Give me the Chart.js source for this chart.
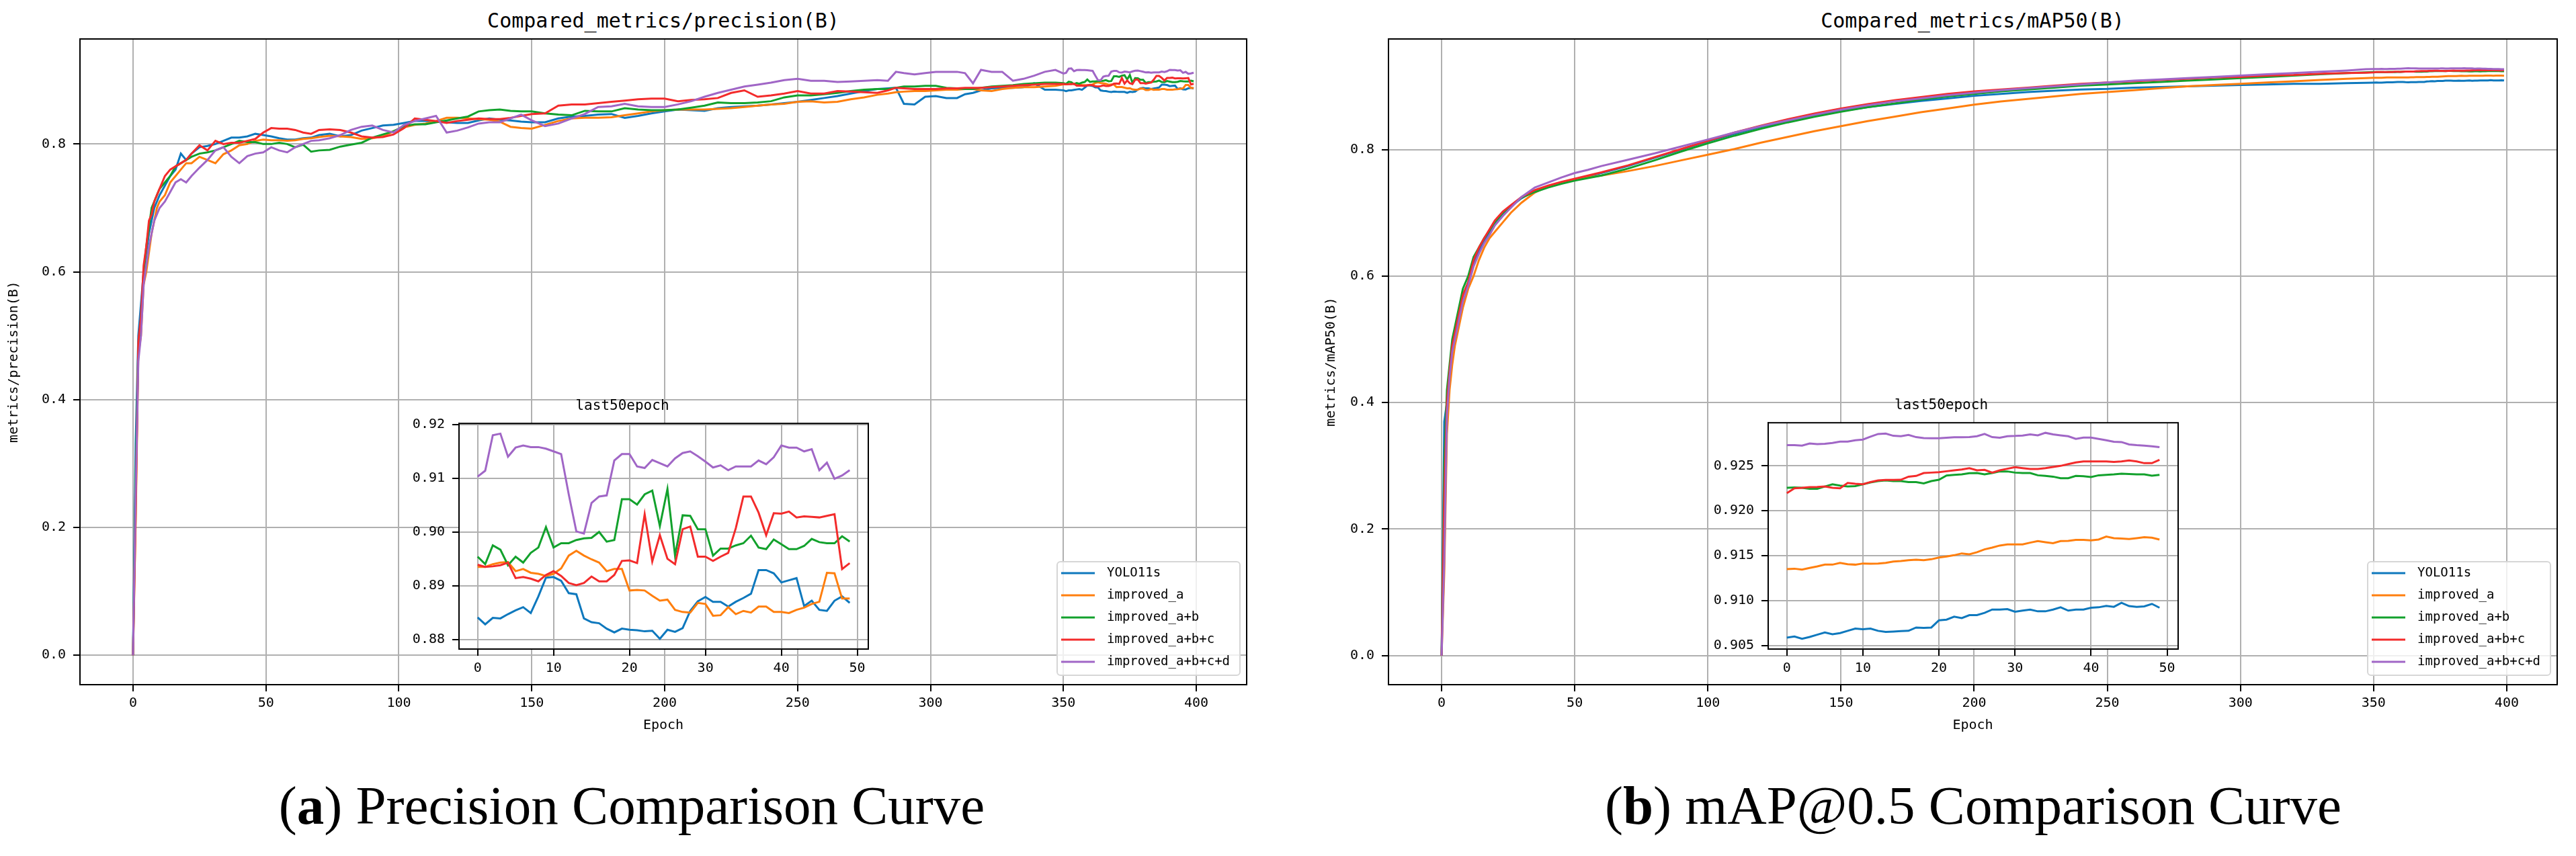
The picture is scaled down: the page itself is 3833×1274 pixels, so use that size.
<!DOCTYPE html>
<html>
<head>
<meta charset="utf-8">
<script src="https://cdn.jsdelivr.net/npm/chart.js@4.4.1/dist/chart.umd.min.js"></script>
<style>
  html, body { margin: 0; padding: 0; background: #fff; overflow: hidden; }
  body { width: 3833px; height: 1274px; position: relative; }
  canvas { position: absolute; }
  .title { position: absolute; transform: translateX(-50%); white-space: nowrap; font-family: 'DejaVu Sans Mono', monospace; font-size: 30px; line-height: 36px; color: #000; }
  .caption { position: absolute; transform: translateX(-50%); white-space: nowrap; font-family: 'Liberation Serif', serif; font-size: 81px; line-height: 81px; color: #000; }
</style>
</head>
<body>
<div class="title" style="left:987px;top:13px">Compared_metrics/precision(B)</div>
<div class="title" style="left:2935px;top:13px">Compared_metrics/mAP50(B)</div>
<canvas id="precMain" width="1900" height="1097" style="left:0;top:0"></canvas>
<canvas id="mapMain" width="1933" height="1097" style="left:1900px;top:0"></canvas>
<canvas id="precInset" width="855" height="432" style="left:560px;top:580px"></canvas>
<canvas id="mapInset" width="800" height="433" style="left:2536px;top:579px"></canvas>
<div class="caption" style="left:940px;top:1159px">(<b>a</b>) Precision Comparison Curve</div>
<div class="caption" style="left:2936px;top:1159px">(<b>b</b>) mAP@0.5 Comparison Curve</div>

<script>
// ---- data ----
const SERIES = ['YOLO11s', 'improved_a', 'improved_a+b', 'improved_a+b+c', 'improved_a+b+c+d'];

// precision(B), epochs 0..347 (sampled), the last 50 epochs come from the inset arrays
const PREC_EPOCHS = [0,1,2,3,4,5,6,7,8,9,10,12,14,16,18,20,22,25,28,31,34,37,40,43,46,49,52,55,58,61,64,67,70,
  74,78,82,86,90,94,98,102,106,110,114,118,122,126,130,134,138,142,146,150,
  155,160,165,170,175,180,185,190,195,200,205,210,215,220,225,230,235,240,245,250,255,260,265,270,275,280,
  284,287,290,294,298,302,306,310,313,316,319,323,327,331,335,339,343,347];

const PREC_YOLO11S = [0,.33,.50,.55,.60,.63,.66,.68,.70,.71,.72, .735,.75,.76,.785,.775,.785,
  .795,.797,.80,.805,.81,.81,.812,.816,.814, .812,.809,.807,.807,.809,.810,.814,
  .816,.812,.814,.821,.825,.829,.830,.833,.836,.836,.835,.834,.833,.833,.837,.840,.838,.837,.835,.834,
  .834,.840,.843,.844,.846,.847,.841,.844,.848,.851,.854,.853,.852,.856,.858,.859,.860,.862,.864,.866,.869,.872,.875,.879,.883,.886,
  .887,.888,.863,.862,.874,.875,.872,.872,.878,.880,.884,.887,.888,.888,.889,.895,.885,.885];
const PREC_A = [0,.21,.47,.50,.58,.60,.63,.66,.68,.70,.71, .72,.74,.75,.76,.77,.77,
  .78,.775,.77,.784,.79,.798,.80,.805,.807, .806,.806,.805,.806,.808,.809,.811,
  .813,.812,.811,.808,.809,.812,.820,.826,.830,.832,.836,.841,.841,.840,.839,.838,.835,.827,.825,.824,
  .830,.836,.840,.841,.841,.842,.845,.848,.851,.853,.854,.854,.854,.855,.856,.858,.860,.862,.863,.866,.867,.865,.866,.870,.873,.877,
  .879,.881,.882,.883,.883,.884,.885,.885,.886,.886,.884,.883,.886,.888,.889,.889,.890,.891];
const PREC_AB = [0,.28,.48,.52,.60,.64,.67,.70,.71,.72,.73, .74,.75,.765,.77,.775,.78,
  .785,.787,.79,.795,.80,.805,.803,.803,.80, .800,.802,.800,.795,.799,.788,.790,
  .791,.796,.799,.802,.810,.815,.820,.828,.831,.831,.834,.837,.840,.843,.851,.853,.854,.852,.851,.851,
  .848,.846,.845,.852,.851,.851,.856,.854,.853,.853,.854,.857,.860,.865,.864,.864,.865,.867,.873,.876,.876,.878,.880,.883,.885,.886,
  .886,.888,.890,.890,.891,.891,.888,.887,.886,.886,.888,.890,.891,.892,.894,.895,.896,.896];
const PREC_ABC = [0,.22,.49,.53,.61,.64,.68,.69,.71,.72,.73, .75,.76,.765,.77,.775,.785,
  .798,.79,.805,.80,.802,.802,.805,.808,.818, .825,.824,.824,.822,.818,.816,.822,
  .823,.822,.818,.812,.810,.811,.815,.825,.840,.838,.836,.833,.836,.838,.840,.839,.839,.841,.844,.847,
  .848,.860,.862,.862,.864,.866,.868,.870,.871,.871,.867,.869,.870,.872,.880,.884,.874,.876,.879,.883,.879,.879,.883,.882,.881,.880,
  .884,.888,.887,.886,.886,.886,.887,.887,.888,.888,.888,.889,.890,.891,.892,.893,.894,.894];
const PREC_ABCD = [0,.25,.46,.50,.58,.61,.64,.66,.68,.69,.70, .71,.725,.74,.745,.74,.75,
  .763,.775,.79,.795,.78,.77,.781,.785,.787, .795,.79,.787,.795,.80,.805,.806,
  .809,.814,.822,.827,.829,.822,.818,.830,.836,.840,.844,.818,.821,.826,.832,.834,.834,.840,.846,.837,
  .828,.832,.840,.847,.858,.859,.863,.859,.858,.858,.862,.867,.874,.880,.885,.890,.893,.896,.900,.902,.899,.899,.897,.898,.899,.900,
  .899,.913,.911,.909,.911,.913,.913,.913,.911,.895,.916,.913,.913,.899,.902,.907,.913,.916];

// precision(B), last 50 epochs (350..399)
const PREC_LAST_YOLO11S = [.8841,.8828,.8840,.8839,.8847,.8854,.8860,.8849,.8880,.8915,.8916,.8909,.8886,.8884,.8839,.8832,.8830,.8820,.8813,.8820,
  .8818,.8817,.8815,.8816,.8801,.8818,.8814,.8821,.8853,.8871,.8879,.8870,.8870,.8861,.8870,.8877,.8885,.8929,.8929,.8923,
  .8906,.8910,.8914,.8862,.8872,.8855,.8853,.8872,.8880,.8868];
const PREC_LAST_A = [.8935,.8935,.8940,.8943,.8944,.8927,.8931,.8924,.8922,.8918,.8922,.8932,.8956,.8965,.8956,.8949,.8943,.8927,.8931,.8931,
  .8891,.8892,.8891,.8881,.8872,.8874,.8855,.8851,.8850,.8868,.8866,.8844,.8845,.8860,.8847,.8853,.8850,.8861,.8861,.8851,
  .8851,.8849,.8855,.8859,.8866,.8870,.8924,.8923,.8876,.8876];
const PREC_LAST_AB = [.8954,.8940,.8975,.8967,.8938,.8954,.8943,.8961,.8971,.9009,.8971,.8979,.8979,.8985,.8988,.8989,.9000,.8982,.8985,.9061,
  .9061,.9051,.9070,.9077,.9011,.9080,.8956,.9031,.9030,.9005,.9005,.8956,.8969,.8969,.8975,.8979,.8993,.8971,.8968,.8986,
  .8977,.8968,.8968,.8974,.8987,.8981,.8979,.8979,.8992,.8982];
const PREC_LAST_ABC = [.8939,.8935,.8936,.8938,.8943,.8914,.8916,.8913,.8908,.8920,.8927,.8918,.8905,.8901,.8905,.8917,.8908,.8908,.8920,.8946,
  .8947,.8942,.9033,.8945,.8994,.8950,.8940,.9005,.9010,.8954,.8954,.8946,.8954,.8961,.9007,.9066,.9066,.9036,.8994,.9035,
  .9034,.9038,.9027,.9029,.9028,.9027,.9030,.9033,.8931,.8942];
const PREC_LAST_ABCD = [.9103,.9114,.9180,.9183,.9140,.9157,.9161,.9158,.9158,.9155,.9150,.9145,.9070,.9001,.8997,.9054,.9066,.9068,.9133,.9145,
  .9145,.9122,.9119,.9134,.9128,.9122,.9137,.9147,.9150,.9141,.9131,.9120,.9124,.9115,.9122,.9122,.9122,.9133,.9126,.9139,
  .9161,.9157,.9157,.9150,.9154,.9115,.9129,.9099,.9105,.9115];

// mAP50(B), epochs 0..347 (sampled)
const MAP_EPOCHS = [0,1,2,3,4,5,6,7,8,10,12,14,16,18,20,23,26,30,35,40,45,50,55,60,
  70,80,90,100,110,120,130,140,150,160,170,180,190,200,210,220,230,240,250,260,270,280,290,300,310,320,330,340,347];

const MAP_YOLO11S = [0,.37,.40,.45,.49,.51,.53,.55,.57, .59,.62,.64,.655,.67,.683, .697,.71, .723,.735,.742,.748,.753,.758,.763,
  .774,.787,.800,.813,.825,.836,.845,.853,.861,.867,.872,.877,.881,.885,.888,.891,.893,.895,.896,.898,.899,.900,.901,.902,.903,.904,.904,.905,.9057];
const MAP_A = [0,.13,.35,.42,.46,.49,.51,.53,.55, .58,.60,.625,.645,.66,.67, .685,.70, .716,.732,.742,.748,.752,.756,.759,
  .766,.774,.783,.792,.801,.811,.820,.829,.837,.845,.852,.859,.865,.871,.876,.880,.884,.888,.891,.894,.897,.900,.902,.904,.906,.908,.910,.912,.913];
const MAP_AB = [0,.30,.42,.46,.50,.52,.54,.56,.58, .60,.63,.645,.66,.672,.685, .70,.71, .724,.733,.740,.746,.751,.755,.759,
  .770,.783,.797,.810,.822,.833,.843,.852,.860,.867,.873,.879,.884,.888,.892,.895,.898,.901,.903,.905,.907,.909,.911,.913,.915,.917,.919,.921,.922];
const MAP_ABC = [0,.25,.40,.45,.49,.51,.53,.55,.57, .59,.625,.645,.66,.674,.688, .702,.712, .725,.736,.743,.749,.754,.759,.764,
  .775,.788,.801,.814,.827,.838,.848,.857,.865,.872,.878,.883,.888,.892,.895,.898,.901,.904,.906,.908,.910,.912,.914,.915,.917,.918,.920,.921,.9215];
const MAP_ABCD = [0,.15,.38,.44,.48,.50,.52,.54,.56, .585,.615,.635,.652,.665,.68, .695,.708, .725,.740,.748,.756,.763,.768,.774,
  .784,.794,.805,.816,.827,.837,.846,.855,.863,.870,.876,.881,.886,.890,.894,.897,.900,.903,.906,.909,.911,.913,.915,.917,.919,.921,.923,.925,.927];

// mAP50(B), last 50 epochs (350..399)
const MAP_LAST_YOLO11S = [.90588,.906,.90575,.90595,.9062,.90645,.90625,.90638,.90663,.90688,.9068,.90688,.90663,.9065,.90655,.9066,.90663,.907,.90695,.907,
  .9078,.90788,.9082,.90805,.90838,.90838,.90863,.909,.909,.90905,.90875,.90888,.909,.9088,.9088,.909,.90925,.90888,.909,.909,
  .9092,.90925,.9094,.9093,.90975,.90938,.9093,.90935,.90963,.9092];
const MAP_LAST_A = [.9135,.91355,.91345,.91363,.9138,.914,.914,.9142,.91405,.914,.91413,.9141,.91413,.9142,.91435,.9144,.9145,.91455,.9145,.9146,
  .9148,.9149,.91505,.91525,.91515,.91538,.9157,.9159,.91613,.91625,.91625,.91625,.91645,.91663,.9165,.91638,.91663,.91665,.91675,.91675,
  .9167,.9168,.91713,.91695,.9169,.91685,.91695,.91705,.917,.9168];
const MAP_LAST_AB = [.92255,.9226,.92255,.92245,.92245,.9227,.92295,.9228,.9227,.92275,.92295,.92315,.9233,.92338,.9233,.9233,.9232,.9232,.92305,.9233,
  .92345,.92393,.924,.92405,.92418,.9242,.92405,.9242,.92438,.92438,.92425,.9242,.9242,.92395,.92388,.9238,.92363,.92363,.92388,.92385,
  .92375,.92395,.924,.92405,.92413,.9241,.92405,.92405,.9239,.924];
const MAP_LAST_ABC = [.92195,.9225,.92255,.92263,.92265,.9227,.92255,.9225,.9231,.923,.92295,.9232,.92338,.92343,.92343,.92345,.9238,.92388,.9242,.92425,
  .9243,.9244,.9245,.9246,.92475,.9245,.92455,.92425,.9245,.92468,.92485,.92475,.92465,.92465,.92475,.92488,.925,.9252,.92538,.9255,
  .9255,.9255,.9255,.92543,.9255,.9256,.9255,.9253,.9253,.92568];
const MAP_LAST_ABCD = [.9273,.9273,.92725,.9275,.92743,.92745,.92755,.9277,.9277,.92785,.92793,.92825,.92855,.9286,.92835,.9283,.92845,.9282,.9281,.92808,
  .92808,.92813,.92818,.92818,.9282,.9283,.92855,.9282,.92813,.9283,.92833,.92838,.9285,.9284,.92868,.9285,.9284,.9283,.928,.92815,
  .92815,.928,.92785,.92768,.92765,.92738,.9273,.92725,.92718,.92708];

const LAST_START = 350;
const X_TICKS_MAIN = [0, 50, 100, 150, 200, 250, 300, 350, 400];
const Y_TICKS_MAIN = [0.0, 0.2, 0.4, 0.6, 0.8];
const X_TICKS_INSET = [0, 10, 20, 30, 40, 50];
const Y_TICKS_PREC_INSET = [0.88, 0.89, 0.90, 0.91, 0.92];
const Y_TICKS_MAP_INSET = [0.905, 0.910, 0.915, 0.920, 0.925];

// ---- styles ----
const COLORS = ['#0e78bd', '#ff7f0e', '#12a12c', '#f32b2b', '#a066c6'];
const FONT = '"DejaVu Sans Mono", monospace';
Chart.defaults.font.family = FONT;
Chart.defaults.color = '#000';

const gridStyle = { color: '#b0b0b0', lineWidth: 2, tickColor: '#000', tickLength: 10, tickWidth: 2, drawTicks: true };
const borderStyle = { display: true, color: '#000', width: 2 };

// white axes patch + black frame on all four sides
const framePlugin = {
  id: 'frame',
  beforeDraw(chart, args, opts) {
    if (!opts.fill) return;
    const a = chart.chartArea, ctx = chart.ctx;
    ctx.save();
    ctx.fillStyle = opts.fill;
    ctx.fillRect(a.left, a.top, a.right - a.left, a.bottom - a.top);
    ctx.restore();
  },
  afterDatasetsDraw(chart) {
    const a = chart.chartArea, ctx = chart.ctx;
    ctx.save();
    ctx.strokeStyle = '#000';
    ctx.lineWidth = 2;
    ctx.strokeRect(a.left, a.top, a.right - a.left, a.bottom - a.top);
    ctx.restore();
  }
};

// matplotlib-like legend box at lower right inside the plot
const boxLegend = {
  id: 'boxLegend',
  afterDraw(chart) {
    const ctx = chart.ctx, a = chart.chartArea;
    const w = 272, h = 169, rowH = 33;
    const left = a.right - 10 - w, top = a.bottom - 14 - h;
    ctx.save();
    ctx.beginPath();
    if (ctx.roundRect) ctx.roundRect(left, top, w, h, 5); else ctx.rect(left, top, w, h);
    ctx.fillStyle = 'rgba(255,255,255,0.8)';
    ctx.fill();
    ctx.strokeStyle = '#d6d6d6';
    ctx.lineWidth = 2;
    ctx.stroke();
    ctx.font = '19px ' + FONT;
    ctx.textBaseline = 'middle';
    chart.data.datasets.forEach((ds, i) => {
      const y = top + 17 + i * rowH;
      ctx.strokeStyle = ds.borderColor;
      ctx.lineWidth = 3;
      ctx.beginPath();
      ctx.moveTo(left + 6, y);
      ctx.lineTo(left + 56, y);
      ctx.stroke();
      ctx.fillStyle = '#000';
      ctx.fillText(ds.label, left + 74, y);
    });
    ctx.restore();
  }
};

function points(xs, ys) {
  return ys.map((v, i) => ({ x: xs[i], y: v }));
}

function fullSeries(epochs, early, last) {
  return points(epochs, early).concat(last.map((v, i) => ({ x: LAST_START + i, y: v })));
}

function datasets(list) {
  return list.map((data, i) => ({
    label: SERIES[i],
    data: data,
    borderColor: COLORS[i],
    backgroundColor: COLORS[i],
    borderWidth: 3,
    pointRadius: 0,
    tension: 0,
    fill: false,
    order: list.length - 1 - i
  }));
}

function scales(o) {
  return {
    x: {
      type: 'linear', min: o.xMin, max: o.xMax, bounds: 'data',
      afterBuildTicks: s => { s.ticks = o.xTicks.map(v => ({ value: v })); },
      afterFit: s => { s.height = o.xHeight; },
      ticks: { autoSkip: false, maxRotation: 0, padding: o.xPad, font: { size: 20 }, callback: v => String(v) },
      grid: gridStyle,
      border: borderStyle,
      title: o.xTitle ? { display: true, text: o.xTitle, font: { size: 20 }, padding: { top: 0, bottom: 5 } } : { display: false }
    },
    y: {
      type: 'linear', min: o.yMin, max: o.yMax, bounds: 'data',
      afterBuildTicks: s => { s.ticks = o.yTicks.map(v => ({ value: v })); },
      afterFit: s => { s.width = o.yWidth; },
      ticks: { autoSkip: false, padding: 11, font: { size: 20 }, callback: v => v.toFixed(o.yDigits) },
      grid: gridStyle,
      border: borderStyle,
      title: o.yTitle ? { display: true, text: o.yTitle, font: { size: 20 }, padding: { top: 9, bottom: 0 } } : { display: false }
    }
  };
}

function mainChart(id, list, yMax, yTitle, padLeft, yWidth, padRight) {
  return new Chart(document.getElementById(id), {
    type: 'line',
    data: { datasets: datasets(list) },
    options: {
      responsive: false, animation: false, devicePixelRatio: 1,
      layout: { padding: { top: 58, left: padLeft, right: padRight, bottom: 0 } },
      plugins: { legend: { display: false }, tooltip: { enabled: false }, title: { display: false } },
      scales: scales({
        xMin: -19.95, xMax: 418.95, xTicks: X_TICKS_MAIN, xHeight: 78, xPad: 6, xTitle: 'Epoch',
        yMin: -0.046, yMax: yMax, yTicks: Y_TICKS_MAIN, yWidth: yWidth, yDigits: 1, yTitle: yTitle
      })
    },
    plugins: [framePlugin, boxLegend]
  });
}

function insetChart(id, list, yMin, yMax, yTicks, yDigits, yWidth, padRight) {
  const xs = list[0].map((v, i) => i);
  return new Chart(document.getElementById(id), {
    type: 'line',
    data: { datasets: datasets(list.map(ys => points(xs, ys))) },
    options: {
      responsive: false, animation: false, devicePixelRatio: 1,
      layout: { padding: { top: 0, left: 0, right: padRight, bottom: 0 } },
      plugins: {
        legend: { display: false }, tooltip: { enabled: false },
        title: { display: true, text: 'last50epoch', color: '#000', font: { size: 21, weight: 'normal' }, padding: { top: 12, bottom: 13 } },
        frame: { fill: '#ffffff' }
      },
      scales: scales({
        xMin: -2.45, xMax: 51.45, xTicks: X_TICKS_INSET, xHeight: 46, xPad: 7,
        yMin: yMin, yMax: yMax, yTicks: yTicks, yWidth: yWidth, yDigits: yDigits
      })
    },
    plugins: [framePlugin]
  });
}

mainChart('precMain', [
  fullSeries(PREC_EPOCHS, PREC_YOLO11S, PREC_LAST_YOLO11S),
  fullSeries(PREC_EPOCHS, PREC_A, PREC_LAST_A),
  fullSeries(PREC_EPOCHS, PREC_AB, PREC_LAST_AB),
  fullSeries(PREC_EPOCHS, PREC_ABC, PREC_LAST_ABC),
  fullSeries(PREC_EPOCHS, PREC_ABCD, PREC_LAST_ABCD)
], 0.9644, 'metrics/precision(B)', 0, 119, 45);

mainChart('mapMain', [
  fullSeries(MAP_EPOCHS, MAP_YOLO11S, MAP_LAST_YOLO11S),
  fullSeries(MAP_EPOCHS, MAP_A, MAP_LAST_A),
  fullSeries(MAP_EPOCHS, MAP_AB, MAP_LAST_AB),
  fullSeries(MAP_EPOCHS, MAP_ABC, MAP_LAST_ABC),
  fullSeries(MAP_EPOCHS, MAP_ABCD, MAP_LAST_ABCD)
], 0.9749, 'metrics/mAP50(B)', 60, 106, 28);

insetChart('precInset', [PREC_LAST_YOLO11S, PREC_LAST_A, PREC_LAST_AB, PREC_LAST_ABC, PREC_LAST_ABCD],
  0.8782, 0.9202, Y_TICKS_PREC_INSET, 2, 123, 123);

insetChart('mapInset', [MAP_LAST_YOLO11S, MAP_LAST_A, MAP_LAST_AB, MAP_LAST_ABC, MAP_LAST_ABCD],
  0.9046, 0.9298, Y_TICKS_MAP_INSET, 3, 95, 95);
</script>
</body>
</html>
